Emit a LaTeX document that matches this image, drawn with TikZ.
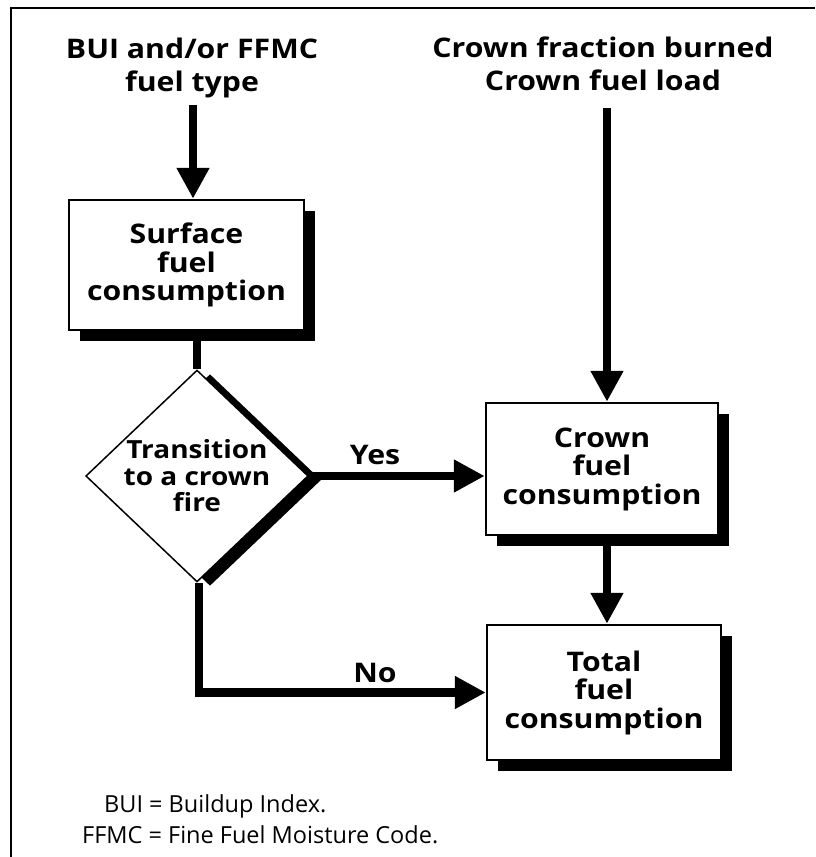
\documentclass[tikz,border=0pt]{standalone}
\usepackage{fontspec}
\setmainfont{Open Sans}
\newfontfamily\boldwide{Open Sans}[FakeStretch=1.12]
\usetikzlibrary{shapes.geometric,shadows,arrows.meta,positioning}
\pgfdeclarelayer{bg}
\pgfsetlayers{bg,main}
\tikzset{
    every node/.style={align=center, inner sep=0pt, font=\boldwide\bfseries\fontsize{27}{28.5}\selectfont}
}
\tikzset{
    stepbox/.style={rectangle, draw, line width=2.5pt, fill=white,
        drop shadow={shadow xshift=11pt, shadow yshift=-11pt, fill=black, opacity=1}},
    decision/.style={diamond, draw, line width=1.5pt, fill=white, aspect=1.05,
        minimum width=216pt, minimum height=206pt,
        drop shadow={shadow xshift=13pt, shadow yshift=-4pt, fill=black, opacity=1}},
    flow/.style={line width=8.5pt, -{Triangle[length=31pt, width=31pt]}},
    plain/.style={line width=8.5pt},
    title/.style={font=\boldwide\bfseries\fontsize{27}{33}\selectfont},
    note/.style={anchor=west, font=\fontsize{23.5}{27}\selectfont}
}

\begin{document}
\begin{tikzpicture}[x=1pt, y=-1pt]
        \useasboundingbox (0,0) rectangle (815,857);
        % frame
        \draw [line width=2pt] (11,857) -- (11,8) -- (815,8);

        \node (tl) [title] at (192, 68) {BUI and/or FFMC\\fuel type};
        \node (tr) [title] at (603, 64) {Crown fraction burned\\Crown fuel load};
        \coordinate (inl) at (193, 105);
        \coordinate (inr) at (607, 108);

        \node (surf) [stepbox, minimum width=235pt, minimum height=130pt] at (186.5, 265) {Surface\\fuel\\consumption};
        \node (dia) [decision, font=\boldwide\bfseries\fontsize{25}{26.5}\selectfont] at (197, 476) {Transition\\to a crown\\fire};
        \node (crown) [stepbox, minimum width=232pt, minimum height=132pt] at (602, 469) {Crown\\fuel\\consumption};
        \node (total) [stepbox, minimum width=234pt, minimum height=135pt] at (604, 692.5) {Total\\fuel\\consumption};

        \node (yes) at (375, 455) {Yes};
        \node (no) at (375, 673) {No};

        \node (n1) [note] at (104, 806) {BUI = Buildup Index.};
        \node (n2) [note] at (82, 835) {FFMC = Fine Fuel Moisture Code.};

        \begin{pgfonlayer}{bg}
                \draw [flow] (inl) -- (inl |- surf.north);
                \draw [flow] (inr) -- (inr |- crown.north);
                \draw [plain] (dia.north |- surf.south) -- (dia.north);
                \draw [flow] (dia.east) -- (dia.east -| crown.west);
                \draw [flow] ([xshift=5pt]crown.south) -- ([xshift=3pt]total.north);
                \draw [flow] ([xshift=2pt]dia.south) |- (total.west);
        \end{pgfonlayer}
\end{tikzpicture}
\end{document}
